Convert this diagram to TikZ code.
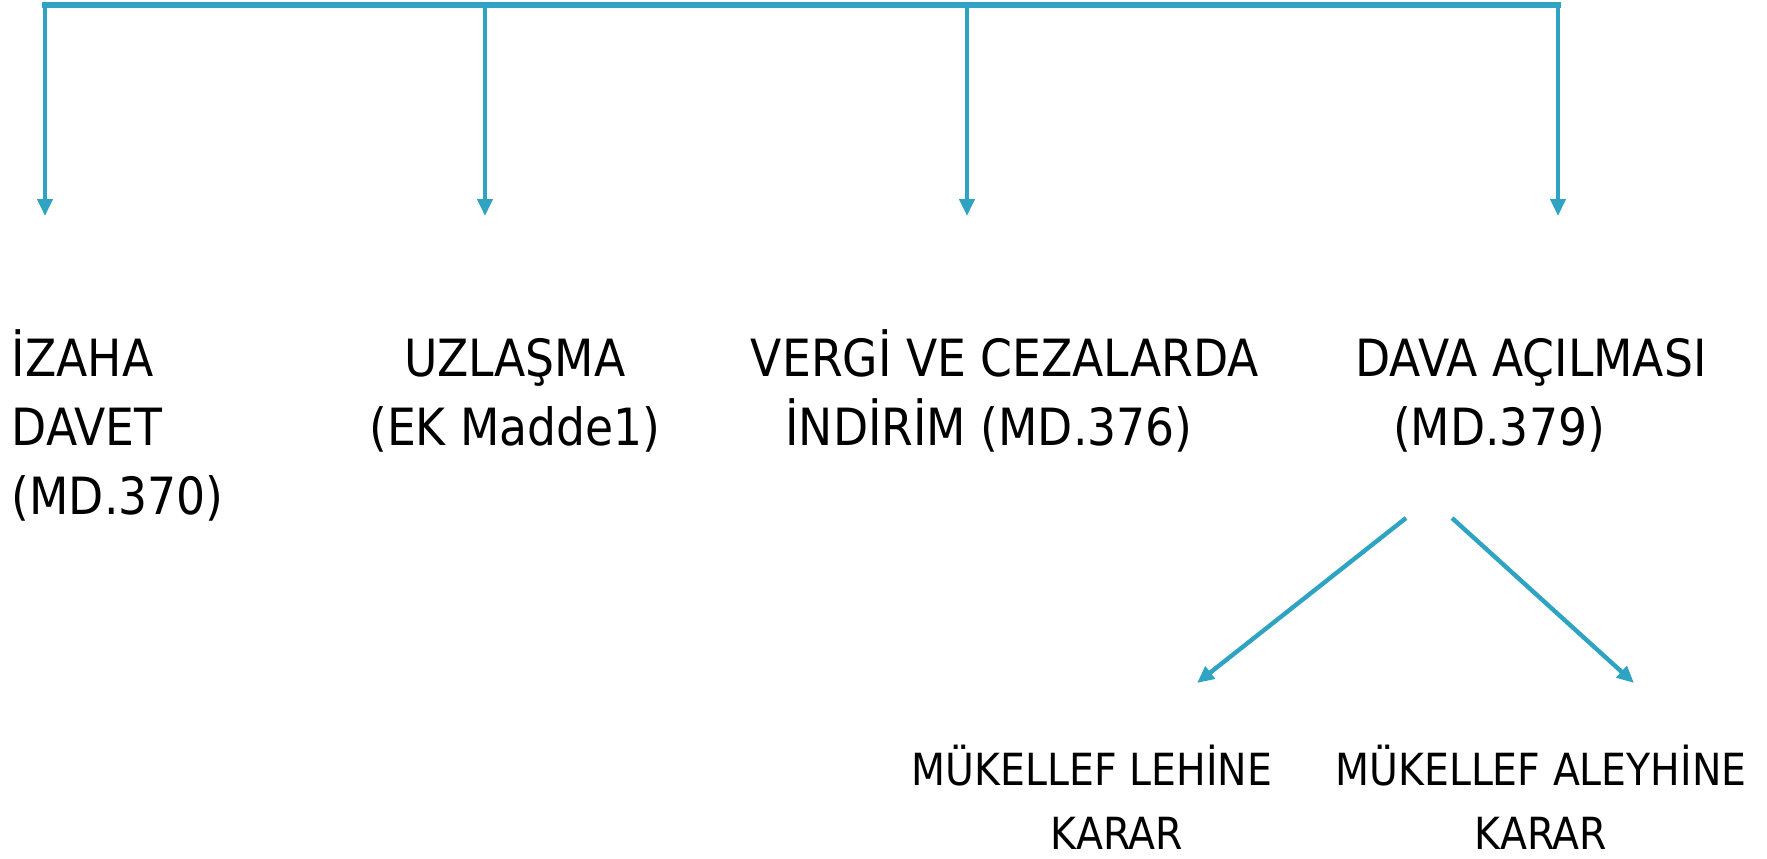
\documentclass[tikz,border=0pt]{standalone}
\usepackage{fontspec}
\setmainfont{DejaVu Sans}[FakeStretch=0.89]
\usetikzlibrary{arrows.meta}
\definecolor{linecol}{RGB}{46,163,194}
\begin{document}
\begin{tikzpicture}[x=0.1mm,y=-0.1mm,
  bigtxt/.style={font=\fontsize{14.6pt}{19.6pt}\selectfont, inner sep=0pt, anchor=base},
  smalltxt/.style={font=\fontsize{12.6pt}{18.1pt}\selectfont, inner sep=0pt, anchor=base, align=center},
  bar/.style={draw=linecol, line width=1.6pt},
  arr/.style={draw=linecol, line width=1.25pt, -{Triangle[width=1.5mm,length=1.7mm]}}]
\useasboundingbox (0,0) rectangle (1767,858);
% text nodes (anchor = baseline of last line)
\node[bigtxt, align=left, anchor=base west] (izaha) at (11,514) {İZAHA\\DAVET\\(MD.370)};
\node[bigtxt, align=center] (uzlasma) at (515,445) {UZLAŞMA\\(EK Madde1)};
\node[bigtxt, align=center] (vergi) at (1005,445) {VERGİ VE CEZALARDA\\İNDİRİM (MD.376)\hspace*{3.2mm}};
\node[bigtxt, align=center] (dava) at (1531,445) {DAVA AÇILMASI\\(MD.379)\hspace*{6.4mm}};
\node[smalltxt] (lehine) at (1092,849) {MÜKELLEF LEHİNE\\\hspace*{5mm}KARAR};
\node[smalltxt] (aleyhine) at (1541,849) {MÜKELLEF ALEYHİNE\\KARAR};
% connector points
\coordinate (b1) at (45,5);
\coordinate (b2) at (485,5);
\coordinate (b3) at (967,5);
\coordinate (b4) at (1558,5);
\coordinate (t1) at (45,216);
\coordinate (t2) at (485,216);
\coordinate (t3) at (967,216);
\coordinate (t4) at (1558,216);
\coordinate (d1) at (1406,518);
\coordinate (d2) at (1452,518);
\coordinate (e1) at (1197,683);
\coordinate (e2) at (1634,683);
% connectors
\draw[bar, line cap=rect] (b1) -- (b4);
\draw[arr] (b1) -- (t1);
\draw[arr] (b2) -- (t2);
\draw[arr] (b3) -- (t3);
\draw[arr] (b4) -- (t4);
\draw[arr] (d1) -- (e1);
\draw[arr] (d2) -- (e2);
\end{tikzpicture}
\end{document}
